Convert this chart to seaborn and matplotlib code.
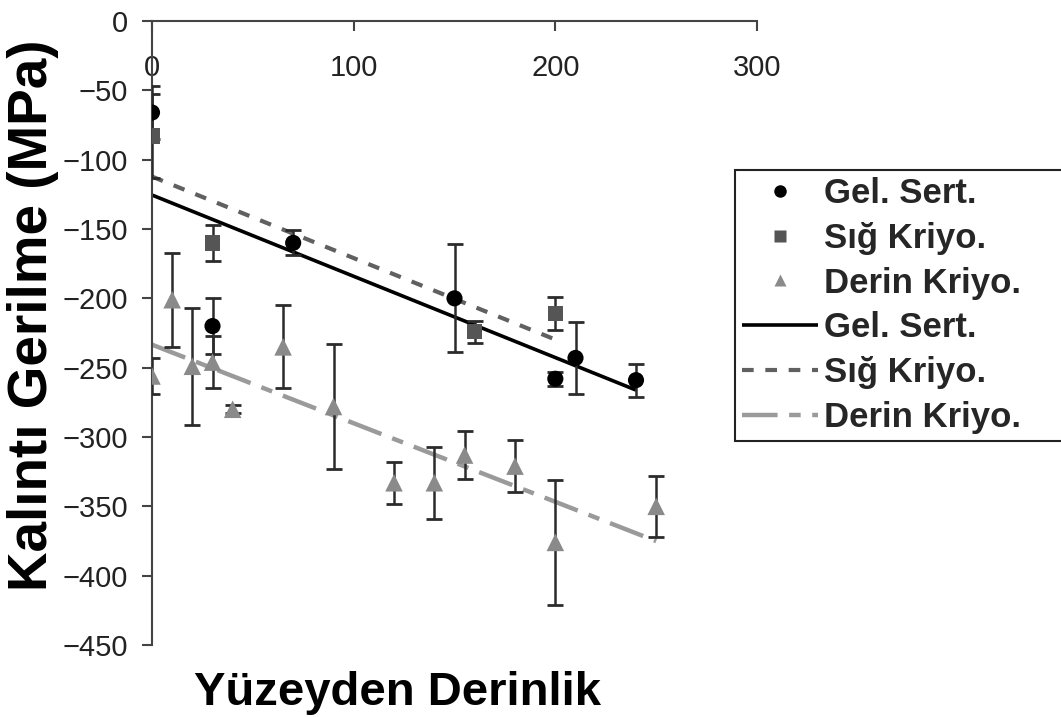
import matplotlib
matplotlib.use("Agg")
import matplotlib.pyplot as plt
from matplotlib.lines import Line2D
import pandas as pd
import seaborn as sns

# Measured residual stress vs. depth for three treatments
gel_x = [0, 30, 70, 150, 200, 210, 240]
gel_y = [-66, -220, -160, -200, -258, -243, -259]
gel_err = [19, 20, 9, 39, 5, 26, 12]

sig_x = [0, 30, 160, 200]
sig_y = [-83, -160, -224, -211]
sig_err = [30, 13, 8, 12]

der_x = [0, 10, 20, 30, 40, 65, 90, 120, 140, 155, 180, 200, 250]
der_y = [-256, -201, -249, -246, -280, -235, -278, -333, -333, -313, -321, -376, -350]
der_err = [13, 34, 42, 19, 3, 30, 45, 15, 26, 17, 19, 45, 22]

series_names = ["Gel. Sert.", "Sığ Kriyo.", "Derin Kriyo."]
x_ticks = [0, 100, 200, 300]
y_ticks = [0, -50, -100, -150, -200, -250, -300, -350, -400, -450]
x_label = "Yüzeyden Derinlik"
y_label = "Kalıntı Gerilme (MPa)"

sns.set_theme(style="white")
plt.rcParams["font.family"] = ["Liberation Sans", "DejaVu Sans"]

W, H = 1061, 717
fig = plt.figure(figsize=(W / 100, H / 100), dpi=100)
ax = fig.add_axes([152 / W, 1 - 645 / H, (757 - 152) / W, (645 - 21) / H])

marker_colors = ["#000000", "#555555", "#8a8a8a"]
line_colors = ["#000000", "#606060", "#9a9a9a"]
markers = ["o", "s", "^"]
sizes = [135, 125, 160]
line_styles = [dict(lw=2.6), dict(lw=3.0, dashes=(2.8, 2.8)), dict(lw=3.2, dashes=(8.0, 2.6, 2.6, 2.6))]

series = [(gel_x, gel_y, gel_err), (sig_x, sig_y, sig_err), (der_x, der_y, der_err)]

# Linear trend lines over each data range
for (xs, ys, _), col, st in zip(series, line_colors, line_styles):
    sns.regplot(x=xs, y=ys, ax=ax, scatter=False, ci=None, truncate=True,
                line_kws=dict(color=col, zorder=2, solid_capstyle="butt",
                              dash_capstyle="butt", **st))

# Error bars
for xs, ys, es in series:
    ax.errorbar(xs, ys, yerr=es, fmt="none", ecolor="#2b2b2b", elinewidth=1.8,
                capsize=5.8, capthick=2.0, zorder=3)

# Data markers
for (xs, ys, _), name, col, mk, sz in zip(series, series_names, marker_colors, markers, sizes):
    df = pd.DataFrame({"x": xs, "y": ys})
    sns.scatterplot(data=df, x="x", y="y", ax=ax, marker=mk, color=col, s=sz,
                    edgecolor="none", linewidth=0, zorder=4, legend=False)

ax.set_xlim(0, 300)
ax.set_ylim(-450, 0)
ax.set_xticks(x_ticks)
ax.set_yticks(y_ticks)
ax.set_xlabel("")
ax.set_ylabel("")

for s in ["bottom", "right"]:
    ax.spines[s].set_visible(False)
for s in ["top", "left"]:
    ax.spines[s].set_color("#444444")
    ax.spines[s].set_linewidth(1.5)

ax.xaxis.tick_top()
ax.tick_params(axis="x", direction="in", length=7, width=1.5, color="#444444",
               pad=-44, labelsize=21, labelcolor="#222222")
ax.tick_params(axis="y", direction="out", length=7, width=1.5, color="#444444",
               pad=10, labelsize=21, labelcolor="#222222", left=True)

fig.text(398 / W, 12 / H, x_label, ha="center", va="baseline",
         fontsize=34, fontweight="bold", color="black")
fig.text(33 / W, 1 - 315 / H, y_label, ha="center", va="center", rotation=90,
         fontsize=39.5, fontweight="bold", color="black")

handles = [
    Line2D([], [], ls="none", marker="o", color=marker_colors[0], ms=9, mec="none"),
    Line2D([], [], ls="none", marker="s", color=marker_colors[1], ms=9, mec="none"),
    Line2D([], [], ls="none", marker="^", color=marker_colors[2], ms=9, mec="none"),
]
for col, st in zip(line_colors, line_styles):
    handles.append(Line2D([], [], color=col, solid_capstyle="butt", dash_capstyle="butt", **st))

leg = fig.legend(handles, series_names * 2, loc="upper left",
                 bbox_to_anchor=(735 / W, 1 - 170 / H - 0.5, 0.35, 0.5),
                 bbox_transform=fig.transFigure, mode="expand",
                 frameon=True, fancybox=False, framealpha=1, edgecolor="#222222",
                 borderpad=0.2, handlelength=2.2, handletextpad=0.15,
                 labelspacing=0.34, borderaxespad=0,
                 prop=dict(weight="bold", size=25))
leg.get_frame().set_linewidth(1.5)

fig.savefig("out.png", dpi=100)
